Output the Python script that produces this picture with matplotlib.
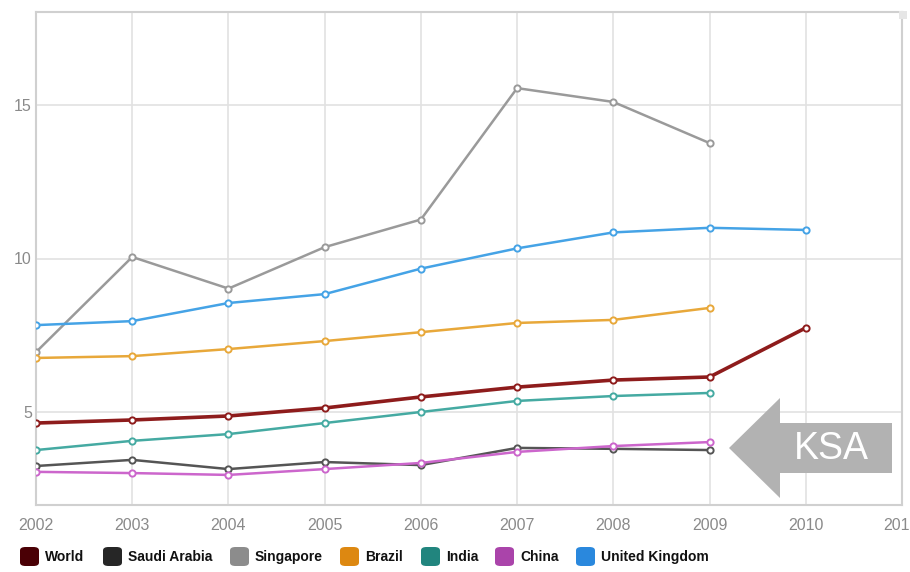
import matplotlib
matplotlib.use("Agg")
from matplotlib import pyplot as plt
from matplotlib.patches import Polygon, FancyBboxPatch
from matplotlib.transforms import ScaledTranslation

years = [2002, 2003, 2004, 2005, 2006, 2007, 2008, 2009, 2010]

world = [4.64, 4.74, 4.87, 5.13, 5.49, 5.81, 6.04, 6.14, 7.74]
saudi_arabia = [3.24, 3.44, 3.14, 3.37, 3.27, 3.83, 3.80, 3.76]
singapore = [6.95, 10.05, 9.02, 10.37, 11.27, 15.55, 15.10, 13.76]
brazil = [6.76, 6.82, 7.05, 7.31, 7.60, 7.90, 8.00, 8.39]
india = [3.76, 4.06, 4.28, 4.64, 5.00, 5.36, 5.52, 5.62]
china = [3.05, 3.01, 2.95, 3.14, 3.34, 3.70, 3.89, 4.02]
united_kingdom = [7.83, 7.96, 8.55, 8.84, 9.67, 10.33, 10.85, 11.00, 10.93]

names = ["World", "Saudi Arabia", "Singapore", "Brazil", "India", "China", "United Kingdom"]
series = [world, saudi_arabia, singapore, brazil, india, china, united_kingdom]
line_colors = ["#8e1c1c", "#555555", "#9a9a9a", "#e8a83a", "#45aaa2", "#cc66cc", "#45a3e6"]
swatch_colors = ["#4a0005", "#262626", "#8c8c8c", "#dd8811", "#21857e", "#aa44aa", "#2a88dd"]
widths = [2.6, 1.8, 1.8, 1.8, 1.8, 1.8, 1.8]

fig = plt.figure(figsize=(9.1, 5.72), dpi=100)
ax = fig.add_axes([36 / 910, 67 / 572, 866 / 910, 493 / 572])

# draw lower series last so the overlaps look like the original
order = [2, 6, 3, 0, 4, 1, 5]
for i in order:
    vals = series[i]
    ax.plot(years[:len(vals)], vals, color=line_colors[i], lw=widths[i],
            marker="o", ms=4.5, mfc="white", mec=line_colors[i], mew=1.4, zorder=3)

ax.set_xlim(2002, 2011)
ax.set_ylim(1.97, 18.03)
ax.set_xticks(range(2002, 2012))
ax.set_xticklabels([str(y) for y in range(2002, 2011)] + ["201"])
ax.set_yticks([5, 10, 15])
ax.grid(True, color="#e2e2e2", lw=1.2)
ax.set_axisbelow(True)
for s in ax.spines.values():
    s.set_color("#d0d0d0")
    s.set_linewidth(1.5)
ax.tick_params(length=0, colors="#8a8a8a", labelsize=11.5, pad=9)
ax.tick_params(axis="y", pad=3)
for lab in ax.get_xticklabels() + ax.get_yticklabels():
    lab.set_family("Liberation Sans")
last = ax.get_xticklabels()[-1]
last.set_transform(last.get_transform() + ScaledTranslation(-0.06, 0, fig.dpi_scale_trans))

# KSA arrow
W, H = 910, 572
pts = [(729, 448), (780, 398), (780, 423), (892, 423), (892, 473), (780, 473), (780, 498)]
arrow = Polygon([(x / W, 1 - y / H) for x, y in pts], closed=True,
                transform=fig.transFigure, facecolor="#b2b2b2", edgecolor="none", zorder=5)
fig.patches.append(arrow)
fig.text(831 / W, 1 - 449 / H, "KSA", color="white", fontsize=27,
         ha="center", va="center", family="Liberation Sans", zorder=10)

# legend
sw_x = [20, 103, 230, 340, 421, 495, 576]
for x, name, c in zip(sw_x, names, swatch_colors):
    box = FancyBboxPatch((x / W, 1 - 566 / H), 19 / W, 19 / H,
                         boxstyle="round,pad=0,rounding_size=0.006",
                         transform=fig.transFigure, facecolor=c, edgecolor="none")
    fig.patches.append(box)
    fig.text((x + 25) / W, 1 - 557 / H, name, fontsize=10, fontweight="bold",
             va="center", ha="left", color="#111111", family="Liberation Sans", zorder=10)

# small square top right corner
fig.patches.append(FancyBboxPatch((899 / W, 1 - 19 / H), 8 / W, 8 / H,
                                  boxstyle="square,pad=0", transform=fig.transFigure,
                                  facecolor="#e6e6e6", edgecolor="none"))

plt.savefig("out.png", dpi=100)
